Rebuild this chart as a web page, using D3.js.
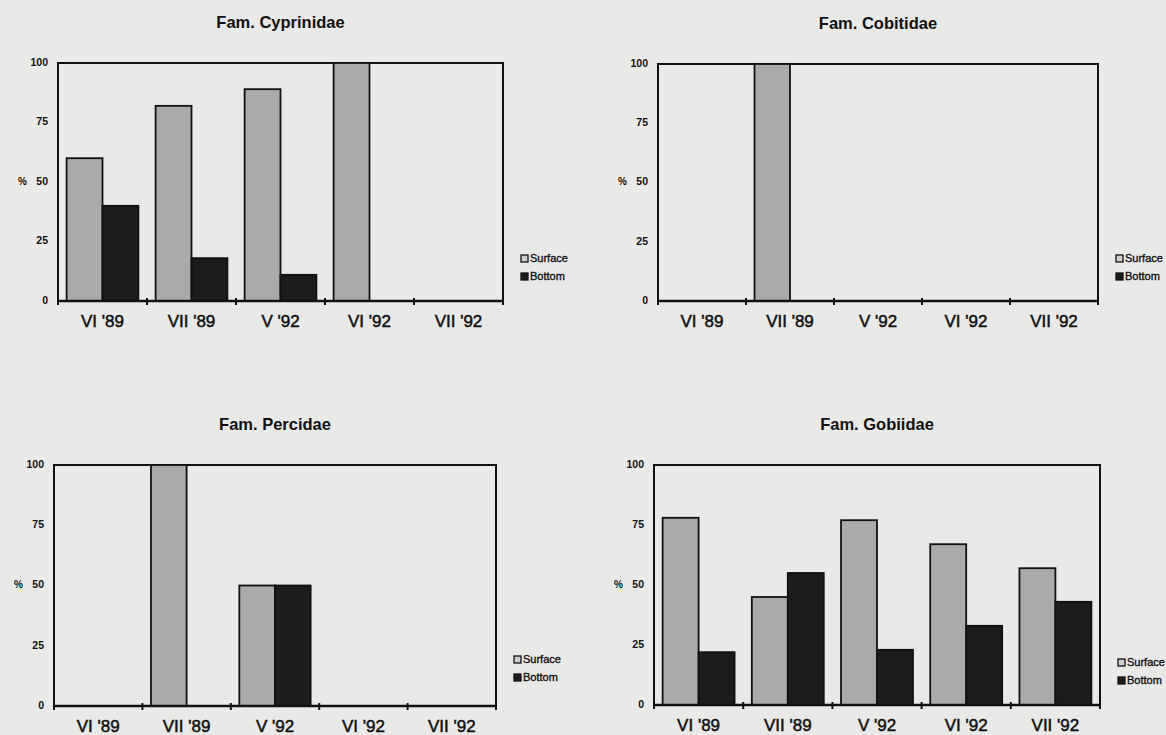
<!DOCTYPE html>
<html>
<head>
<meta charset="utf-8">
<script src="https://cdn.jsdelivr.net/npm/d3@7"></script>
<style>
  html, body { margin: 0; padding: 0; background: #e9e9e7; }
  svg { display: block; }
  text { font-family: "Liberation Sans", Arial, sans-serif; fill: #111; }
</style>
</head>
<body>
<svg id="chart" width="1166" height="735"></svg>
<script>
// ── Data ───────────────────────────────────────────────────────────────────
const months = ["VI '89", "VII '89", "V '92", "VI '92", "VII '92"];
const yTicks = [0, 25, 50, 75, 100];
const seriesNames = ["Surface", "Bottom"];

const cyprinidaeSurface = [60, 82, 89, 100, 0];
const cyprinidaeBottom  = [40, 18, 11, 0, 0];
const cobitidaeSurface  = [0, 100, 0, 0, 0];
const cobitidaeBottom   = [0, 0, 0, 0, 0];
const percidaeSurface   = [0, 100, 50, 0, 0];
const percidaeBottom    = [0, 0, 50, 0, 0];
const gobiidaeSurface   = [78, 45, 77, 67, 57];
const gobiidaeBottom    = [22, 55, 23, 33, 43];

// ── Layout ─────────────────────────────────────────────────────────────────
const COLORS = { Surface: "#aaaaaa", Bottom: "#1c1c1c" };

const panels = [
  { title: "Fam. Cyprinidae", surface: cyprinidaeSurface, bottom: cyprinidaeBottom,
    box: { left: 58, right: 503, top: 63, bottom: 301 }, legendDy: -42 },
  { title: "Fam. Cobitidae", surface: cobitidaeSurface, bottom: cobitidaeBottom,
    box: { left: 658, right: 1098, top: 64, bottom: 301 }, legendDy: -42 },
  { title: "Fam. Percidae", surface: percidaeSurface, bottom: percidaeBottom,
    box: { left: 54, right: 496, top: 465, bottom: 706 }, legendDy: -46 },
  { title: "Fam. Gobiidae", surface: gobiidaeSurface, bottom: gobiidaeBottom,
    box: { left: 654, right: 1100, top: 465, bottom: 705 }, legendDy: -42 },
];

const svg = d3.select("#chart");

// ── Draw ───────────────────────────────────────────────────────────────────
function drawPanel(p) {
  const b = p.box;
  const g = svg.append("g");

  const x0 = d3.scaleBand().domain(months).range([b.left, b.right]).padding(0);
  const x1 = d3.scaleBand().domain(seriesNames).range([0, x0.bandwidth()])
    .paddingInner(0).paddingOuter(0.24);
  const y = d3.scaleLinear().domain([0, 100]).range([b.bottom, b.top]);

  // Title
  g.append("text")
    .attr("x", (b.left + b.right) / 2).attr("y", b.top - 39)
    .attr("text-anchor", "middle").attr("dominant-baseline", "middle")
    .attr("font-size", 16.5).attr("font-weight", "bold")
    .text(p.title);

  // Frame
  g.append("rect")
    .attr("x", b.left).attr("y", b.top)
    .attr("width", b.right - b.left).attr("height", b.bottom - b.top)
    .attr("fill", "none").attr("stroke", "#111").attr("stroke-width", 2);

  // Bars
  const rows = months.map((m, i) => ({ month: m, Surface: p.surface[i], Bottom: p.bottom[i] }));
  const bars = rows.flatMap(r => seriesNames.map(s => ({ month: r.month, key: s, value: r[s] })))
    .filter(d => d.value > 0);

  g.selectAll("rect.bar")
    .data(bars)
    .enter()
    .append("rect")
    .attr("class", "bar")
    .attr("x", d => x0(d.month) + x1(d.key))
    .attr("y", d => y(d.value))
    .attr("width", x1.bandwidth())
    .attr("height", d => y(0) - y(d.value))
    .attr("fill", d => COLORS[d.key])
    .attr("stroke", "#111").attr("stroke-width", 1.8);

  // Bottom axis
  const xAxis = g.append("g").attr("transform", `translate(0,${b.bottom})`);
  xAxis.append("line")
    .attr("x1", b.left).attr("x2", b.right)
    .attr("stroke", "#111").attr("stroke-width", 2.6);
  const bounds = months.map(m => x0(m)).concat([b.right]);
  xAxis.selectAll("line.tick")
    .data(bounds)
    .enter()
    .append("line")
    .attr("class", "tick")
    .attr("x1", d => d).attr("x2", d => d)
    .attr("y1", -3).attr("y2", 4)
    .attr("stroke", "#111").attr("stroke-width", 2);
  xAxis.selectAll("text")
    .data(months)
    .enter()
    .append("text")
    .attr("x", d => x0(d) + x0.bandwidth() / 2)
    .attr("y", 22)
    .attr("text-anchor", "middle").attr("dominant-baseline", "middle")
    .attr("font-size", 17)
    .attr("stroke", "#111").attr("stroke-width", 0.5)
    .text(d => d);

  // Left axis labels
  g.selectAll("text.ytick")
    .data(yTicks)
    .enter()
    .append("text")
    .attr("class", "ytick")
    .attr("x", b.left - 10).attr("y", d => y(d))
    .attr("text-anchor", "end").attr("dominant-baseline", "middle")
    .attr("font-size", 10.5).attr("font-weight", "bold")
    .text(d => d);

  g.append("text")
    .attr("x", b.left - 40).attr("y", y(50))
    .attr("dominant-baseline", "middle")
    .attr("font-size", 10).attr("font-weight", "bold")
    .text("%");

  // Legend
  const leg = g.append("g").attr("transform", `translate(${b.right + 18},${b.bottom + p.legendDy})`);
  const item = leg.selectAll("g")
    .data(seriesNames)
    .enter()
    .append("g")
    .attr("transform", (d, i) => `translate(0,${i * 18})`);
  item.append("rect")
    .attr("x", 0).attr("y", -4).attr("width", 7).attr("height", 7)
    .attr("fill", d => d === "Surface" ? "#cfcfcf" : COLORS.Bottom)
    .attr("stroke", "#111").attr("stroke-width", 1.3);
  item.append("text")
    .attr("x", 9).attr("y", 0)
    .attr("dominant-baseline", "middle")
    .attr("font-size", 11)
    .attr("stroke", "#111").attr("stroke-width", 0.35)
    .text(d => d);
}

panels.forEach(drawPanel);
</script>
</body>
</html>
